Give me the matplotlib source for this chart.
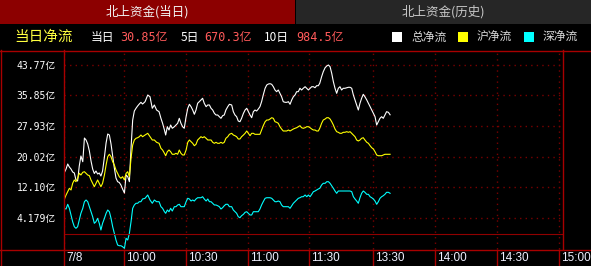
import matplotlib
matplotlib.use("Agg")
import matplotlib.pyplot as plt
import matplotlib.transforms as mtransforms
from matplotlib.patches import Rectangle

W, H = 591, 266

# trading minutes since 9:30 (lunch break removed)
minutes = [
    0.0, 1.0, 1.8, 2.6, 3.4, 4.2, 5.0, 5.8, 6.6, 7.4, 8.2, 9.1, 9.9, 10.7, 11.5, 12.3,
    13.1, 13.9, 14.7, 15.5, 16.3, 17.1, 17.9, 18.7, 19.6, 20.4, 21.2, 22.0, 22.8, 23.6,
    24.4, 25.2, 26.0, 26.8, 27.6, 28.4, 29.3, 30.1, 30.9, 31.7, 32.5, 33.3, 34.1, 34.9,
    35.7, 36.5, 37.3, 38.1,
    39.3, 40.6, 41.7, 42.8, 43.8, 44.9, 46.1, 47.0, 47.8, 48.7, 49.3, 50.1, 50.9, 51.7,
    52.5, 53.5, 54.3, 55.1, 55.9, 56.7, 57.5, 58.3, 59.2, 60.0, 60.8, 61.6, 62.4, 63.2,
    64.0, 64.8, 65.6, 66.4, 67.2, 68.0, 68.9, 69.7, 70.5, 71.3, 72.1, 72.9, 73.7, 74.5,
    75.3, 76.1, 76.9, 77.7, 78.5, 79.4, 80.2,
    81.3, 82.1, 82.9, 83.7, 84.5, 85.3, 86.1, 87.0, 87.8, 88.6, 89.4, 90.2, 91.0, 91.8,
    92.6, 93.4, 94.2, 95.0, 95.8, 96.6, 97.5, 98.3, 99.1, 99.9, 100.7, 101.5, 102.3,
    103.1, 103.9, 104.7, 105.5, 106.3, 107.2, 108.0, 108.8, 109.6, 110.4, 111.2, 112.0,
    112.8, 113.6, 114.4, 115.2, 116.0, 116.9, 117.7, 118.5, 119.3, 120.1, 120.9, 121.7,
    122.5, 123.3,
    124.0, 124.9, 125.7, 126.6, 127.4, 128.2, 129.0, 129.8, 130.6, 131.4, 132.2, 133.0,
    133.8, 134.6, 135.4, 136.2, 137.1, 137.9, 138.7, 139.5, 140.3, 141.1, 141.9, 142.7,
    143.5, 144.3, 145.1, 145.9, 146.8, 147.6, 148.4, 149.2, 150.0, 150.8, 151.6, 152.4,
    153.2, 154.0, 154.8, 155.6, 156.4, 157.3, 158.1,
]

# 总净流 (亿)
total_flow = [
    15.71, 16.82, 18.12, 17.34, 16.82, 16.05, 15.79, 13.98, 13.72, 17.60, 20.19, 18.71,
    24.84, 24.33, 23.29, 21.48, 18.89, 16.82, 15.66, 16.30, 15.53, 15.79, 15.01, 16.30,
    19.93, 23.55, 25.88, 25.62, 23.29, 20.19, 17.08, 14.49, 13.54, 13.33, 12.68, 11.65,
    10.61, 15.27, 14.83, 13.54, 22.26, 29.50, 31.83, 32.53, 33.13, 33.64, 34.08, 33.64,
    34.24, 35.97, 35.53, 32.53, 33.39, 32.09, 31.65, 29.94, 28.65, 26.92, 25.62, 27.77,
    26.92, 28.21, 27.36, 27.77, 28.21, 28.65, 29.94, 28.65, 27.77, 27.36, 30.36, 32.53,
    33.57, 32.95, 32.09, 30.98, 32.09, 33.83, 34.24, 34.68, 35.12, 33.83, 32.95, 33.39,
    33.39, 32.53, 32.09, 31.24, 30.80, 30.80, 30.36, 29.94, 30.62, 30.80, 32.09, 32.95,
    33.57,
    33.39, 31.65, 30.80, 30.36, 29.24, 29.06, 29.94, 31.24, 32.09, 32.53, 31.65, 30.80,
    30.10, 31.65, 32.09, 31.83, 32.35, 32.95, 34.24, 35.97, 37.71, 38.56, 38.82, 38.90,
    38.74, 38.12, 37.27, 36.83, 37.27, 36.41, 35.53, 34.24, 34.08, 34.08, 34.24, 33.57,
    34.68, 35.53, 35.97, 36.83, 36.83, 37.71, 37.27, 37.71, 38.12, 37.71, 37.27, 37.71,
    38.12, 38.12, 37.86, 38.38, 38.38,
    39.00, 40.71, 42.00, 43.04, 43.48, 43.74, 43.30, 41.59, 39.41, 37.71, 36.41, 37.71,
    38.12, 37.27, 37.71, 37.71, 37.86, 37.97, 37.97, 37.71, 35.97, 34.68, 33.39, 32.09,
    33.83, 35.12, 36.15, 35.53, 34.68, 33.83, 32.95, 32.09, 31.24, 30.36, 28.21, 29.06,
    29.94, 30.36, 29.94, 30.80, 31.65, 31.49, 30.85,
]

# 沪净流 (亿)
sh_flow = [
    8.80, 10.09, 10.95, 11.83, 11.39, 13.12, 13.98, 13.54, 14.42, 15.71, 15.27, 15.97,
    16.12, 15.71, 15.27, 15.09, 13.98, 13.12, 12.24, 13.12, 13.98, 13.12, 12.24, 13.12,
    15.27, 17.86, 20.01, 20.63, 20.01, 18.71, 17.86, 16.56, 15.71, 14.83, 14.42, 14.83,
    13.98, 15.71, 16.12, 14.83, 19.59, 23.03, 24.33, 24.77, 24.92, 25.18, 25.62, 25.18,
    25.62, 26.06, 25.18, 24.33, 24.33, 23.73, 23.47, 22.18, 21.74, 20.89, 20.26, 21.30,
    21.74, 21.30, 20.63, 20.63, 20.89, 20.63, 21.74, 20.89, 20.45, 20.45, 21.74, 23.73,
    24.33, 23.89, 23.47, 22.85, 23.21, 24.33, 24.77, 25.18, 24.92, 25.18, 24.77, 24.33,
    24.33, 24.33, 23.73, 23.47, 23.73, 23.47, 23.47, 23.73, 23.47, 23.73, 24.77, 25.18,
    25.80,
    26.06, 25.62, 25.44, 25.18, 24.59, 24.59, 25.18, 25.62, 26.06, 26.66, 26.06, 25.44,
    26.06, 26.06, 25.80, 25.80, 25.80, 25.80, 26.92, 28.03, 29.06, 29.50, 29.50, 29.76,
    30.10, 29.94, 29.06, 28.91, 28.65, 27.77, 27.17, 26.66, 26.66, 26.66, 26.92, 26.66,
    26.92, 27.17, 27.36, 27.51, 27.77, 28.03, 27.51, 27.36, 27.51, 27.77, 27.77, 27.51,
    27.17, 26.92, 26.92, 26.66, 26.66,
    27.36, 28.65, 29.50, 29.76, 30.10, 30.10, 29.76, 29.06, 28.21, 27.17, 26.48, 26.32,
    26.06, 26.06, 26.32, 26.32, 26.48, 26.32, 26.48, 26.06, 25.62, 25.18, 24.33, 24.07,
    24.33, 24.77, 24.92, 24.33, 23.73, 23.47, 22.85, 22.33, 22.00, 21.30, 20.45, 20.26,
    20.26, 20.26, 20.45, 20.63, 20.63, 20.63, 20.63,
]

# 深净流 (亿)
sz_flow = [
    6.65, 6.47, 7.69, 6.65, 4.92, 3.18, 1.89, 1.48, 1.89, 3.62, 5.36, 6.65,
    8.36, 8.80, 8.36, 7.07, 5.77, 4.48, 2.77, 3.18, 4.06, 2.77, 1.04, 2.77,
    4.06, 5.36, 6.21, 5.77, 4.06, 1.89, 0.18, -1.55, -2.85, -3.03, -3.03, -3.29,
    -3.70, -1.11, -1.55, 0.18, 3.18, 6.65, 7.51, 7.95, 7.95, 8.36, 8.36, 9.06,
    9.24, 10.09, 8.80, 7.95, 8.80, 8.36, 8.36, 7.07, 6.65, 5.77, 5.36, 6.21,
    5.77, 6.65, 5.95, 7.07, 7.07, 7.51, 7.69, 7.07, 7.07, 7.07, 8.36, 9.24,
    9.06, 8.54, 8.80, 8.54, 9.06, 9.39, 9.39, 9.39, 9.65, 9.06, 8.54, 9.06,
    8.36, 8.36, 7.95, 7.51, 7.51, 7.32, 7.07, 6.47, 6.81, 7.32, 7.69, 7.69,
    7.07,
    7.07, 6.21, 5.77, 5.36, 4.48, 4.22, 4.74, 5.10, 5.62, 5.77, 5.36, 4.92,
    4.92, 5.77, 5.77, 5.77, 5.77, 6.47, 7.51, 8.36, 9.24, 9.39, 9.39, 9.39,
    9.24, 8.80, 8.36, 8.36, 8.54, 8.36, 7.51, 7.07, 7.07, 7.07, 7.07, 6.65,
    7.32, 7.95, 8.36, 8.80, 9.24, 9.39, 9.65, 9.65, 10.09, 9.65, 10.09, 9.65,
    10.27, 10.95, 11.13, 11.39, 11.65,
    11.83, 12.68, 13.12, 13.12, 13.54, 13.54, 13.12, 12.50, 11.83, 11.13, 10.53, 11.13,
    11.13, 11.13, 11.13, 11.13, 11.13, 11.13, 11.13, 10.95, 9.65, 9.06, 8.54, 7.95,
    9.39, 10.53, 11.13, 10.79, 10.27, 10.27, 9.65, 9.39, 9.06, 8.54, 7.69, 8.36,
    9.24, 9.65, 9.91, 10.27, 10.79, 10.79, 10.53,
]

series_names = ["总净流", "沪净流", "深净流"]
series_colors = ["#ffffff", "#ffff00", "#00ffff"]

tick_minutes = [0, 29, 59, 89, 119, 150, 180, 210, 240]
tick_labels = ["7/8", "10:00", "10:30", "11:00", "11:30", "13:30", "14:00", "14:30", "15:00"]
ytick_values = [43.77, 35.85, 27.93, 20.02, 12.10, 4.179]
ytick_labels = ["43.77亿", "35.85亿", "27.93亿", "20.02亿", "12.10亿", "4.179亿"]

tab_titles = ["北上资金(当日)", "北上资金(历史)"]
summary_labels = ["当日", "5日", "10日"]
summary_values = ["30.85亿", "670.3亿", "984.5亿"]

CJK = ["Noto Sans CJK SC", "DejaVu Sans"]
MONO = ["DejaVu Sans Mono", "Noto Sans CJK SC"]
RED = "#a80000"
GRID = "#7a0000"

fig = plt.figure(figsize=(W / 100, H / 100), dpi=100, facecolor="black")

# background layer in pixel coordinates
bg = fig.add_axes([0, 0, 1, 1])
bg.set_xlim(0, W)
bg.set_ylim(H, 0)
bg.axis("off")
bg.add_patch(Rectangle((0, 0), 295, 24, color="#8c0000", lw=0))
bg.add_patch(Rectangle((296, 0), 295, 24, color="#262626", lw=0))
bg.text(147.5, 12, tab_titles[0], color="#f2f2f2", fontsize=9, family=CJK,
        ha="center", va="center")
bg.text(443.5, 12, tab_titles[1], color="#c8c8c8", fontsize=9, family=CJK,
        ha="center", va="center")

bg.text(14, 37, "当日净流", color="#ffff40", fontsize=10.5, family=CJK, va="center")
for lab, val, lx, vx in zip(summary_labels, summary_values, [91, 181, 264], [120, 204, 296]):
    bg.text(lx, 37, lab, color="white", fontsize=8.5, family=CJK, va="center")
    bg.text(vx, 37, val, color="#ff5a5a", fontsize=8.5, family=MONO, va="center")

for name, col, sx in zip(series_names, series_colors, [392, 458, 524]):
    bg.add_patch(Rectangle((sx, 32), 10, 10, color=col, lw=0))
    bg.text(sx + 19, 37, name, color="#d8d8d8", fontsize=8.5, family=CJK, va="center")

bg.plot([0, W], [50.5, 50.5], color=RED, lw=1)
bg.plot([0, W], [249.5, 249.5], color=RED, lw=1)
bg.plot([0.5, 0.5], [50, H], color=RED, lw=1)

# chart area
ax = fig.add_axes([64 / W, 17 / H, 499 / W, 199 / H])
ax.patch.set_alpha(0)
ax.set_xlim(0, 241.94)
ax.set_ylim(-3.88, 47.62)

for vals, col in zip([total_flow, sh_flow, sz_flow], series_colors):
    ax.plot(minutes, vals, color=col, lw=0.8)

ax.axhline(0, color="#900000", lw=0.8)

ax.set_yticks(ytick_values, ytick_labels)
ax.tick_params(axis="y", length=0, pad=6, colors="white", labelsize=7)
for lbl in ax.get_yticklabels():
    lbl.set_fontfamily(MONO)

ax.set_xticks(tick_minutes, [""] * len(tick_minutes))
ax.tick_params(axis="x", length=0)
ax.grid(True, color=GRID, linestyle=(0, (1, 3)), lw=1)

sep = ax.get_xaxis_transform()
ax.vlines(tick_minutes, -17 / 199, 0, transform=sep, colors=RED, lw=1, clip_on=False)
shift = mtransforms.ScaledTranslation(2 / 100, 0, fig.dpi_scale_trans)
for m, lab in zip(tick_minutes, tick_labels):
    ax.text(m, -0.043, lab, transform=sep + shift, color="#f0f0ff", fontsize=8.5,
            family="Liberation Sans", ha="left", va="center")

for side in ["top", "bottom"]:
    ax.spines[side].set_visible(False)
for side in ["left", "right"]:
    ax.spines[side].set_color(RED)
    ax.spines[side].set_linewidth(1)

fig.savefig("out.png", dpi=100, facecolor="black")
